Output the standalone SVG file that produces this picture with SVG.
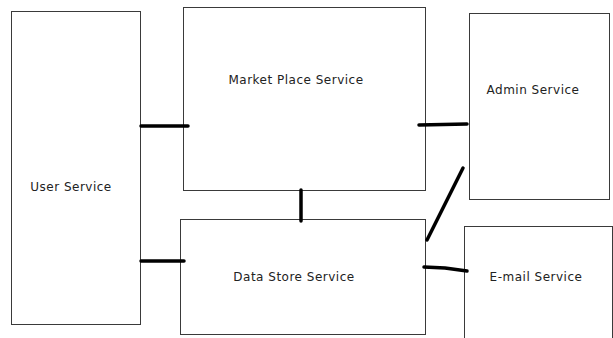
<svg xmlns="http://www.w3.org/2000/svg" width="613" height="338" viewBox="0 0 613 338">
  <style>
    .box { fill: #ffffff; stroke: #3a3a3a; stroke-width: 1; }
    .label { font-family: "DejaVu Sans", "Liberation Sans", sans-serif; font-size: 12px; letter-spacing: 0.5px; fill: #222222; }
    .link { fill: none; stroke: #000000; stroke-width: 3.5; stroke-linecap: round; stroke-linejoin: round; }
  </style>
  <rect width="613" height="338" fill="#ffffff"/>

  <g id="user-service">
    <rect class="box" x="11.5" y="11.5" width="129" height="313"/>
    <text class="label" x="71" y="191" text-anchor="middle">User Service</text>
  </g>

  <g id="market-place-service">
    <rect class="box" x="183.5" y="7.5" width="242" height="183"/>
    <text class="label" x="296" y="84" text-anchor="middle">Market Place Service</text>
  </g>

  <g id="data-store-service">
    <rect class="box" x="180.5" y="219.5" width="245" height="115"/>
    <text class="label" x="294" y="281" text-anchor="middle">Data Store Service</text>
  </g>

  <g id="admin-service">
    <rect class="box" x="469.5" y="13.5" width="140" height="186"/>
    <text class="label" x="533" y="94" text-anchor="middle">Admin Service</text>
  </g>

  <g id="email-service">
    <rect class="box" x="464.5" y="226.5" width="148" height="120"/>
    <text class="label" x="536" y="281" text-anchor="middle">E-mail Service</text>
  </g>

  <g id="connectors">
    <path class="link" d="M141 126 L188 126"/>
    <path class="link" d="M141 261 L184 261"/>
    <path class="link" d="M301 190 L301 221"/>
    <path class="link" d="M419 125 L467 124"/>
    <path class="link" d="M463 168 L427 240"/>
    <path class="link" d="M424 267 L445 268 L467 271"/>
  </g>
</svg>
